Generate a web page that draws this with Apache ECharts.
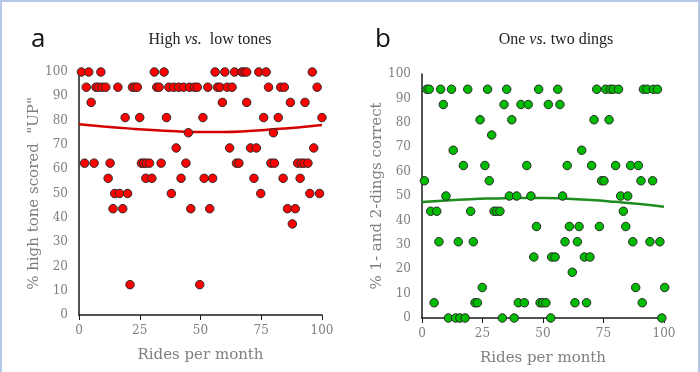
<!DOCTYPE html>
<html>
<head>
<meta charset="utf-8">
<script src="https://cdn.jsdelivr.net/npm/echarts@6/dist/echarts.min.js"></script>
<style>
  html, body { margin: 0; padding: 0; background: #fff; }
  #wrap { position: relative; width: 700px; height: 372px; }
  #main { width: 700px; height: 372px; }
  #frame { position: absolute; left: 0; top: 0; width: 696px; height: 372px;
           border-left: 2px solid #b4c7e7; border-top: 2px solid #b4c7e7; border-right: 2px solid #b4c7e7;
           pointer-events: none; }
</style>
</head>
<body>
<div id="wrap"><div id="main"></div><div id="frame"></div></div>
<script>
// panel a: high vs low tones, [rides per month, % high tone scored UP]
const highLowPoints = [
  [1, 100], [4, 100], [9, 100], [31, 100], [35, 100], [56, 100], [60, 100], [64, 100], [67, 100], [68, 100], [69, 100], [74, 100], [77, 100], [96, 100],
  [3, 93.75], [7, 93.75], [8, 93.75], [9.5, 93.75], [11, 93.75], [16, 93.75], [22, 93.75], [23, 93.75], [24, 93.75], [32, 93.75], [33, 93.75],
  [37, 93.75], [39, 93.75], [41, 93.75], [43, 93.75], [45.5, 93.75], [47.5, 93.75], [48.7, 93.75], [53, 93.75], [57, 93.75], [58, 93.75],
  [61, 93.75], [63, 93.75], [78, 93.75], [83, 93.75], [84.5, 93.75], [98, 93.75],
  [5, 87.5], [59, 87.5], [69, 87.5], [87, 87.5], [93, 87.5],
  [19, 81.25], [25, 81.25], [36, 81.25], [51, 81.25], [76, 81.25], [82, 81.25], [100, 81.25],
  [45, 75], [80, 75],
  [40, 68.75], [62, 68.75], [70.6, 68.75], [73, 68.75], [96.6, 68.75],
  [2.3, 62.5], [6.2, 62.5], [12.8, 62.5], [25.7, 62.5], [26.6, 62.5], [27.7, 62.5], [29, 62.5], [33.8, 62.5], [44, 62.5],
  [64.8, 62.5], [65.8, 62.5], [79, 62.5], [80.4, 62.5], [90, 62.5], [91.5, 62.5], [92.6, 62.5], [94.2, 62.5],
  [12, 56.25], [27.5, 56.25], [30, 56.25], [42, 56.25], [51.5, 56.25], [55, 56.25], [72, 56.25], [84, 56.25], [91, 56.25],
  [14.7, 50], [16.7, 50], [20, 50], [38, 50], [74.8, 50], [95, 50], [99, 50],
  [14, 43.75], [18, 43.75], [46, 43.75], [53.8, 43.75], [85.8, 43.75], [89, 43.75],
  [87.8, 37.5],
  [21, 12.5], [49.7, 12.5]
];
const highLowTrend = [[0, 78.5], [10, 77.6], [20, 76.8], [30, 76.1], [40, 75.6], [50, 75.3], [60, 75.3], [70, 75.7], [80, 76.4], [90, 77.2], [100, 78.2]];

// panel b: one vs two dings, [rides per month, % 1- and 2-dings correct]
const dingPoints = [
  [2, 93.75], [3, 93.75], [7.7, 93.75], [12.2, 93.75], [18.9, 93.75], [27.1, 93.75], [35, 93.75], [48.2, 93.75], [56.1, 93.75],
  [72.2, 93.75], [75.9, 93.75], [77.8, 93.75], [79, 93.75], [81.2, 93.75], [91.5, 93.75], [93, 93.75], [95.6, 93.75], [97.3, 93.75],
  [8.8, 87.5], [33.9, 87.5], [40.9, 87.5], [43.9, 87.5], [52.2, 87.5], [57, 87.5],
  [24, 81.25], [37.1, 81.25], [71.1, 81.25], [77.3, 81.25],
  [28.8, 75],
  [12.9, 68.75], [66, 68.75],
  [17.1, 62.5], [26, 62.5], [43.3, 62.5], [60, 62.5], [70.1, 62.5], [80, 62.5], [86.2, 62.5], [89.4, 62.5],
  [1, 56.25], [27.8, 56.25], [74.2, 56.25], [75.2, 56.25], [90.5, 56.25], [95.3, 56.25],
  [9.9, 50], [36.1, 50], [39.1, 50], [45, 50], [58.1, 50], [82.1, 50], [85, 50],
  [3.6, 43.75], [6.1, 43.75], [20.1, 43.75], [29.8, 43.75], [30.9, 43.75], [32.2, 43.75], [83.2, 43.75],
  [47.3, 37.5], [60.9, 37.5], [64.9, 37.5], [73.3, 37.5], [84.2, 37.5],
  [7, 31.25], [15, 31.25], [21.2, 31.25], [59.1, 31.25], [64.2, 31.25], [87.1, 31.25], [94.2, 31.25], [98.3, 31.25],
  [46.2, 25], [53.6, 25], [55, 25], [67.1, 25], [69.4, 25],
  [62.1, 18.75],
  [24.9, 12.5], [88.3, 12.5], [100.3, 12.5],
  [5, 6.25], [21.9, 6.25], [22.9, 6.25], [39.8, 6.25], [42.3, 6.25], [48.8, 6.25], [49.9, 6.25], [51.2, 6.25], [63.2, 6.25], [68, 6.25], [91, 6.25],
  [10.9, 0], [13.9, 0], [15.7, 0], [17.8, 0], [33.2, 0], [38.1, 0], [53.2, 0], [99.1, 0]
];
const dingTrend = [[0, 47.5], [10, 48.2], [20, 48.7], [30, 49.0], [40, 49.2], [50, 49.2], [60, 48.9], [70, 48.4], [80, 47.6], [90, 46.7], [100, 45.6]];

const xTicks = [0, 25, 50, 75, 100];
const panelTitles = [['High ', 'vs.', '  low tones'], ['One ', 'vs.', ' two dings']];
const panelLetters = ['a', 'b'];
const yNames = ['% high tone scored  "UP"', '% 1- and 2-dings correct'];
const xName = 'Rides per month';

const serif = 'DejaVu Serif';
const grey = '#7f7f7f';

function xAxisFor(i) {
  return {
    gridIndex: i, type: 'value', min: 0, max: 100, interval: 25,
    name: xName, nameLocation: 'middle', nameGap: 33,
    nameTextStyle: { fontFamily: serif, fontSize: 15, color: grey },
    axisLine: { lineStyle: { color: '#1a1a1a', width: 1.5 } },
    axisTick: { show: true, length: 5, lineStyle: { color: '#1a1a1a' } },
    axisLabel: { fontFamily: serif, fontSize: 12, color: grey, margin: 10,
      formatter: v => xTicks.includes(v) ? String(v) : '' },
    splitLine: { show: false }
  };
}
function yAxisFor(i) {
  return {
    gridIndex: i, type: 'value', min: 0, max: 100, interval: 10,
    name: yNames[i], nameLocation: 'middle', nameGap: 36,
    nameTextStyle: { fontFamily: serif, fontSize: 15, color: grey },
    axisLine: { show: true, lineStyle: { color: '#1a1a1a', width: 1.5 } },
    axisTick: { show: false },
    axisLabel: { fontFamily: serif, fontSize: 12, color: grey, margin: 11 },
    splitLine: { show: false }
  };
}
function titleFor(i, left) {
  const t = panelTitles[i];
  return {
    text: '{n|' + t[0] + '}{i|' + t[1] + '}{n|' + t[2] + '}',
    left: left, top: 27, textAlign: 'center',
    textStyle: { fontWeight: 'normal', rich: {
      n: { fontFamily: 'Liberation Serif', fontSize: 16, fontWeight: 'normal', color: '#222' },
      i: { fontFamily: 'Liberation Serif', fontSize: 16, fontWeight: 'normal', fontStyle: 'italic', color: '#222' }
    } }
  };
}

const chart = echarts.init(document.getElementById('main'), null, { renderer: 'canvas' });
chart.setOption({
  animation: false,
  backgroundColor: '#fff',
  title: [
    titleFor(0, 205),
    titleFor(1, 551),
    { text: panelLetters[0], left: 26, top: 22, textStyle: { fontFamily: 'Open Sans', fontSize: 26, fontWeight: 'normal', color: '#111' } },
    { text: panelLetters[1], left: 370, top: 22, textStyle: { fontFamily: 'Open Sans', fontSize: 26, fontWeight: 'normal', color: '#111' } }
  ],
  grid: [
    { left: 79, right: 378, top: 72, bottom: 57 },
    { left: 422, right: 36, top: 74, bottom: 54 }
  ],
  xAxis: [xAxisFor(0), xAxisFor(1)],
  yAxis: [yAxisFor(0), yAxisFor(1)],
  series: [
    {
      type: 'line', xAxisIndex: 0, yAxisIndex: 0, data: highLowTrend, smooth: true,
      showSymbol: false, lineStyle: { color: '#d40000', width: 2.5 }, z: 1
    },
    {
      type: 'scatter', xAxisIndex: 0, yAxisIndex: 0, data: highLowPoints, symbolSize: 8.5, clip: false,
      itemStyle: { color: '#ff0000', borderColor: '#2b2b2b', borderWidth: 1, opacity: 1 }, z: 3
    },
    {
      type: 'line', xAxisIndex: 1, yAxisIndex: 1, data: dingTrend, smooth: true,
      showSymbol: false, lineStyle: { color: '#1e8c1e', width: 2.5 }, z: 1
    },
    {
      type: 'scatter', xAxisIndex: 1, yAxisIndex: 1, data: dingPoints, symbolSize: 8.5, clip: false,
      itemStyle: { color: '#00bb00', borderColor: '#2b2b2b', borderWidth: 1, opacity: 1 }, z: 3
    }
  ]
});
</script>
</body>
</html>
